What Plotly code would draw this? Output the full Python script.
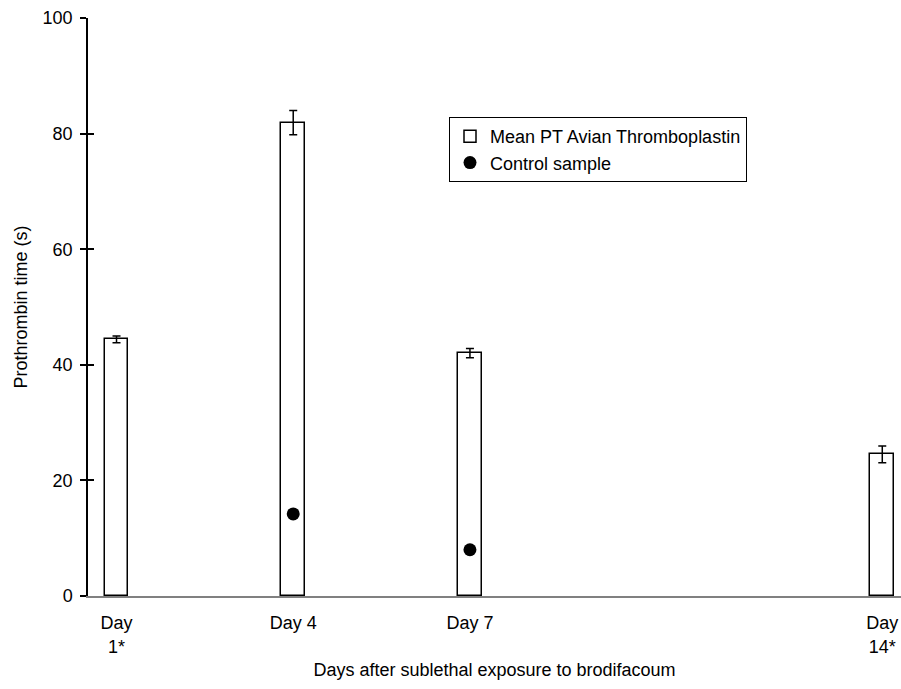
import plotly.graph_objects as go

# Prothrombin time after sublethal brodifacoum exposure
days = [1, 4, 7, 14]
day_labels = ["Day<br>1*", "Day 4", "Day 7", "Day<br>14*"]
mean_pt = [44.4, 81.9, 42.0, 24.5]
mean_pt_err = [0.6, 2.1, 0.8, 1.45]

control_days = [4, 7]
control_pt = [14.2, 8.0]

y_ticks = [0, 20, 40, 60, 80, 100]

FONT = "Liberation Sans, Arial, sans-serif"
FS = 18

fig = go.Figure()

fig.add_trace(go.Bar(
    x=days, y=mean_pt, width=0.4,
    name="Mean PT Avian Thromboplastin",
    legendgroup="a",
    marker=dict(color="white", line=dict(color="black", width=1.5)),
    error_y=dict(type="data", array=mean_pt_err, visible=True,
                 color="black", thickness=1.5, width=4),
))

fig.add_trace(go.Scatter(
    x=control_days, y=control_pt, mode="markers",
    name="Control sample",
    legendgroup="b",
    marker=dict(color="black", size=13, symbol="circle"),
))

# Invisible trace on an overlay axis that draws the inner half of the y ticks
fig.add_trace(go.Scatter(
    x=[days[0]], y=[0], yaxis="y2", mode="markers",
    marker=dict(opacity=0), showlegend=False, hoverinfo="skip",
))

plot_w = 901 - 88
plot_h = 689 - 18 - 93

fig.update_layout(
    width=901, height=689,
    margin=dict(l=88, r=0, t=18, b=93),
    paper_bgcolor="white", plot_bgcolor="white",
    font=dict(family=FONT, size=FS, color="black"),
    bargap=0,
    xaxis=dict(
        range=[0.516, 14.318],
        tickmode="array", tickvals=days, ticktext=day_labels,
        ticks="", showgrid=False, zeroline=False,
        ticklabelstandoff=10,
        showline=True, linecolor="#808080", linewidth=1.5,
        title=dict(text="Days after sublethal exposure to brodifacoum",
                   standoff=8, font=dict(size=FS)),
    ),
    yaxis=dict(
        range=[0, 100],
        tickmode="array", tickvals=y_ticks,
        ticks="outside", ticklen=6, tickcolor="black", tickwidth=1.5,
        ticklabelstandoff=4,
        showgrid=False, zeroline=False,
        showline=True, linecolor="black", linewidth=1.5,
        title=dict(text="Prothrombin time (s)", standoff=10,
                   font=dict(size=FS)),
    ),
    yaxis2=dict(
        range=[0, 100], overlaying="y", side="left",
        tickmode="array", tickvals=y_ticks,
        ticks="inside", ticklen=6, tickcolor="black", tickwidth=1.5,
        showticklabels=False, showgrid=False, zeroline=False,
        showline=False,
    ),
    legend=dict(
        x=(449 - 88) / plot_w,
        y=1 - (117 - 18) / plot_h,
        xanchor="left", yanchor="top",
        bordercolor="black", borderwidth=1, bgcolor="white",
        traceorder="grouped", tracegroupgap=0,
        itemwidth=30, font=dict(size=FS),
    ),
    showlegend=True,
)

fig.write_html("out.html")
